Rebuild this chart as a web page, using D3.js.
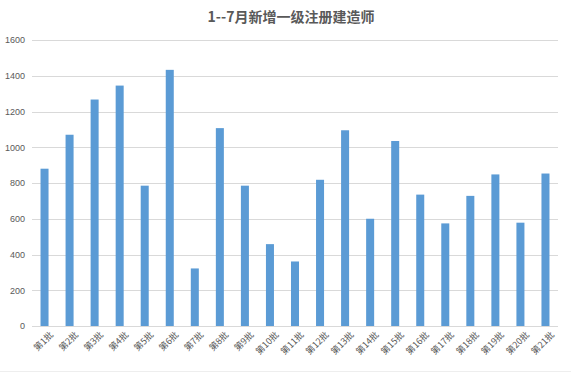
<!DOCTYPE html>
<html>
<head>
<meta charset="utf-8">
<script src="https://cdn.jsdelivr.net/npm/d3@7"></script>
<style>
  body { margin: 0; background: #fff; }
  svg { display: block; }
</style>
</head>
<body>
<svg id="chart" width="571" height="372"></svg>
<script>
"use strict";

// chart data
var title = "1--7月新增一级注册建造师";
var batches = ["第1批","第2批","第3批","第4批","第5批","第6批","第7批","第8批","第9批","第10批",
               "第11批","第12批","第13批","第14批","第15批","第16批","第17批","第18批","第19批","第20批","第21批"];
var counts = [880, 1070, 1267, 1345, 785, 1433, 322, 1107, 785, 458,
              361, 818, 1095, 600, 1035, 735, 574, 728, 848, 578, 853];
var yTicks = [0, 200, 400, 600, 800, 1000, 1200, 1400, 1600];

var svg = d3.select("#chart");
var margin = {left: 32, right: 13, top: 40, bottom: 46};
var width = 571 - margin.left - margin.right;
var height = 372 - margin.top - margin.bottom;

// title
svg.append("text")
    .attr("x", 291)
    .attr("y", 22)
    .attr("text-anchor", "middle")
    .style("font-family", "'Noto Sans CJK SC', sans-serif")
    .style("font-weight", "bold")
    .style("font-size", "14px")
    .style("fill", "#595959")
    .text(title);

var g = svg.append("g")
    .attr("transform", "translate(" + margin.left + "," + margin.top + ")");

var x = d3.scaleBand().domain(batches).range([0, width]).paddingInner(0.68).paddingOuter(0.34);
var y = d3.scaleLinear().domain([0, 1600]).range([height, 0]);

// gridlines
g.selectAll(".grid")
    .data(yTicks)
    .enter()
    .append("line")
    .attr("x1", 0)
    .attr("x2", width)
    .attr("y1", function(d) { return Math.round(y(d)) + 0.5; })
    .attr("y2", function(d) { return Math.round(y(d)) + 0.5; })
    .style("stroke", "#d9d9d9")
    .style("stroke-width", 1);

// y axis labels
var yAxis = d3.axisLeft(y).tickValues(yTicks).tickFormat(d3.format("d")).tickSize(0).tickPadding(7);
g.append("g").call(yAxis)
    .call(function(s) { s.select(".domain").remove(); })
    .selectAll("text")
    .style("font-family", "'Liberation Sans', Arial, sans-serif")
    .style("font-size", "9px")
    .style("fill", "#595959");

// bars
g.selectAll(".bar")
    .data(counts)
    .enter()
    .append("rect")
    .attr("x", function(d, i) { return x(batches[i]); })
    .attr("width", x.bandwidth())
    .attr("y", function(d) { return y(d); })
    .attr("height", function(d) { return height - y(d); })
    .style("fill", "#5b9bd5");

// x axis
var xAxis = d3.axisBottom(x).tickSize(0).tickPadding(5);
var xg = g.append("g")
    .attr("transform", "translate(0," + height + ")")
    .call(xAxis);
xg.select(".domain").remove();
xg.selectAll("text")
    .attr("text-anchor", "end")
    .attr("dy", "0.6em")
    .attr("transform", "translate(2,2) rotate(-45)")
    .style("font-family", "'Noto Sans CJK SC', sans-serif")
    .style("font-size", "9px")
    .style("fill", "#595959");

// faint frame at the bottom
svg.append("line")
    .attr("x1", 0).attr("x2", 571)
    .attr("y1", 371.5).attr("y2", 371.5)
    .style("stroke", "#eeeeee");
</script>
</body>
</html>
